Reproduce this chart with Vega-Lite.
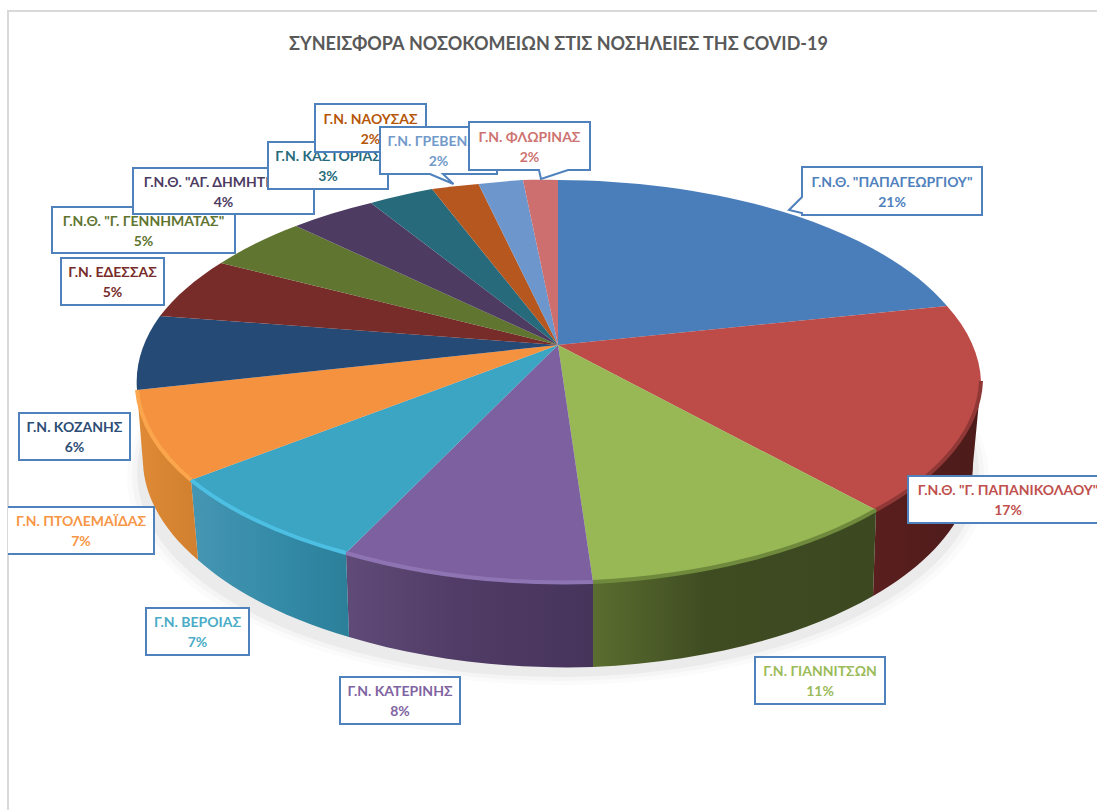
{
"$schema":"https://vega.github.io/schema/vega-lite/v6.json",
"width":1097,"height":810,"padding":0,"autosize":{"type":"none"},
"background":"white",
"title":{"text":"ΣΥΝΕΙΣΦΟΡΑ ΝΟΣΟΚΟΜΕΙΩΝ ΣΤΙΣ ΝΟΣΗΛΕΙΕΣ ΤΗΣ COVID-19","anchor":"middle","frame":"group","offset":0,"dy":63,"dx":10,"baseline":"middle","font":"Lato","fontSize":18,"fontWeight":"bold","color":"#595959"},
"config":{"view":{"stroke":null},
"range":{
"category":["#4f81bd","#c0504d","#9bbb59","#8064a2","#4bacc6","#f79646","#2c4d75","#772c2a","#5f7530","#4d3b62","#276a7c","#b65708","#729aca","#cd7371"],
"symbol":[
"M-90,-24 L90,-24 L90,24 L-90,24 L-90,22 L-103,19 L-90,6 Z",
"M-100,-23.5 L100,-23.5 L100,23.5 L-100,23.5 Z",
"M-65,-23.5 L65,-23.5 L65,23.5 L-65,23.5 Z",
"M-60,-23.5 L60,-23.5 L60,23.5 L-60,23.5 Z",
"M-51.5,-23.5 L51.5,-23.5 L51.5,23.5 L-51.5,23.5 Z",
"M-73,-23.5 L73,-23.5 L73,23.5 L-73,23.5",
"M-55.5,-23.5 L55.5,-23.5 L55.5,23.5 L-55.5,23.5 Z",
"M-51.5,-23.5 L51.5,-23.5 L51.5,23.5 L-51.5,23.5 Z",
"M-91.5,-23 L91.5,-23 L91.5,23 L-91.5,23 Z",
"M-90.5,-23 L90.5,-23 L90.5,23 L-90.5,23 Z",
"M-60,-23.5 L60,-23.5 L60,23.5 L-60,23.5 Z",
"M-55.5,-24 L55.5,-24 L55.5,24 L-55.5,24 Z",
"M-58.5,-23.5 L58.5,-23.5 L58.5,23.5 L4.5,23.5 L15,33.5 L-8.5,23.5 L-58.5,23.5 Z",
"M-60.5,-24 L60.5,-24 L60.5,24 L38.5,24 L11.5,33 L9.5,24 L-60.5,24 Z"
]}},
"data":{"values":[
{"order":1,"hospital":"Γ.Ν.Θ. \"ΠΑΠΑΓΕΩΡΓΙΟΥ\"","share":21,"label":"Γ.Ν.Θ. \"ΠΑΠΑΓΕΩΡΓΙΟΥ\"\n21%"},
{"order":2,"hospital":"Γ.Ν.Θ. \"Γ. ΠΑΠΑΝΙΚΟΛΑΟΥ\"","share":17,"label":"Γ.Ν.Θ. \"Γ. ΠΑΠΑΝΙΚΟΛΑΟΥ\"\n17%"},
{"order":3,"hospital":"Γ.Ν. ΓΙΑΝΝΙΤΣΩΝ","share":11,"label":"Γ.Ν. ΓΙΑΝΝΙΤΣΩΝ\n11%"},
{"order":4,"hospital":"Γ.Ν. ΚΑΤΕΡΙΝΗΣ","share":8,"label":"Γ.Ν. ΚΑΤΕΡΙΝΗΣ\n8%"},
{"order":5,"hospital":"Γ.Ν. ΒΕΡΟΙΑΣ","share":7,"label":"Γ.Ν. ΒΕΡΟΙΑΣ\n7%"},
{"order":6,"hospital":"Γ.Ν. ΠΤΟΛΕΜΑΪΔΑΣ","share":7,"label":"Γ.Ν. ΠΤΟΛΕΜΑΪΔΑΣ\n7%"},
{"order":7,"hospital":"Γ.Ν. ΚΟΖΑΝΗΣ","share":6,"label":"Γ.Ν. ΚΟΖΑΝΗΣ\n6%"},
{"order":8,"hospital":"Γ.Ν. ΕΔΕΣΣΑΣ","share":5,"label":"Γ.Ν. ΕΔΕΣΣΑΣ\n5%"},
{"order":9,"hospital":"Γ.Ν.Θ. \"Γ. ΓΕΝΝΗΜΑΤΑΣ\"","share":5,"label":"Γ.Ν.Θ. \"Γ. ΓΕΝΝΗΜΑΤΑΣ\"\n5%"},
{"order":10,"hospital":"Γ.Ν.Θ. \"ΑΓ. ΔΗΜΗΤΡΙΟΣ\"","share":4,"label":"Γ.Ν.Θ. \"ΑΓ. ΔΗΜΗΤΡΙΟΣ\"\n4%"},
{"order":11,"hospital":"Γ.Ν. ΚΑΣΤΟΡΙΑΣ","share":3,"label":"Γ.Ν. ΚΑΣΤΟΡΙΑΣ\n3%"},
{"order":12,"hospital":"Γ.Ν. ΝΑΟΥΣΑΣ","share":2,"label":"Γ.Ν. ΝΑΟΥΣΑΣ\n2%"},
{"order":13,"hospital":"Γ.Ν. ΓΡΕΒΕΝΩΝ","share":2,"label":"Γ.Ν. ΓΡΕΒΕΝΩΝ\n2%"},
{"order":14,"hospital":"Γ.Ν. ΦΛΩΡΙΝΑΣ","share":2,"label":"Γ.Ν. ΦΛΩΡΙΝΑΣ\n2%"}
]},
"resolve":{"scale":{"shape":"independent","color":"independent"}},
"layer":[
{"transform":[{"filter":"datum.order==1"}],"mark":{"type":"point","shape":"M-540.5,405 L-540.5,-394 L548.5,-394","size":4,"filled":false,"stroke":"#d9d9d9","strokeWidth":2,"opacity":1,"fill":null},"encoding":{}},
{"transform":[{"filter":"datum.order==1"}],"mark":{"type":"point","shape":"M-421.5,72 A431,208 0 1 1 440.5,72 A431,208 0 1 1 -421.5,72 Z","size":4,"filled":true,"fill":"#000000","opacity":0.015},"encoding":{}},
{"transform":[{"filter":"datum.order==1"}],"mark":{"type":"point","shape":"M-416.5,70 A426,206 0 1 1 435.5,70 A426,206 0 1 1 -416.5,70 Z","size":4,"filled":true,"fill":"#000000","opacity":0.025},"encoding":{}},
{"transform":[{"filter":"datum.order==1"}],"mark":{"type":"point","shape":"M-411.5,68 A421,204 0 1 1 430.5,68 A421,204 0 1 1 -411.5,68 Z","size":4,"filled":true,"fill":"#000000","opacity":0.04},"encoding":{}},
{"transform":[{"filter":"datum.order==2"}],"mark":{"type":"point","shape":"M432.5,-24 A423,201 0 0 1 327.5,105 L324.5,191 A415,203 0 0 0 424.5,59 Z","size":4,"filled":true,"opacity":1,"fill":{"gradient":"linear","x1":0,"x2":1,"y1":0,"y2":0,"stops":[{"offset":0,"color":"#5a1f1e"},{"offset":1,"color":"#4b1b1a"}]}},"encoding":{}},
{"transform":[{"filter":"datum.order==3"}],"mark":{"type":"point","shape":"M327.5,105 A423,201 0 0 1 44.5,177 L44.5,262 A415,203 0 0 0 324.5,191 Z","size":4,"filled":true,"opacity":1,"fill":{"gradient":"linear","x1":0,"x2":1,"y1":0,"y2":0,"stops":[{"offset":0,"color":"#5b6d2f"},{"offset":0.4,"color":"#3f4c22"},{"offset":1,"color":"#3c4820"}]}},"encoding":{}},
{"transform":[{"filter":"datum.order==4"}],"mark":{"type":"point","shape":"M44.5,177 A423,201 0 0 1 -202.5,148 L-199.5,232 A415,203 0 0 0 44.5,262 Z","size":4,"filled":true,"opacity":1,"fill":{"gradient":"linear","x1":0,"x2":1,"y1":0,"y2":0,"stops":[{"offset":0,"color":"#604b78"},{"offset":0.45,"color":"#503c66"},{"offset":1,"color":"#47345b"}]}},"encoding":{}},
{"transform":[{"filter":"datum.order==5"}],"mark":{"type":"point","shape":"M-202.5,148 A423,201 0 0 1 -357.5,75 L-350.5,155 A415,203 0 0 0 -199.5,232 Z","size":4,"filled":true,"opacity":1,"fill":{"gradient":"linear","x1":0,"x2":1,"y1":0,"y2":0,"stops":[{"offset":0,"color":"#4596b3"},{"offset":0.6,"color":"#338aa6"},{"offset":1,"color":"#2b7f99"}]}},"encoding":{}},
{"transform":[{"filter":"datum.order==6"}],"mark":{"type":"point","shape":"M-357.5,75 A423,201 0 0 1 -411.5,-15 L-405.5,59 A415,203 0 0 0 -350.5,155 Z","size":4,"filled":true,"opacity":1,"fill":{"gradient":"linear","x1":0,"x2":1,"y1":0,"y2":0,"stops":[{"offset":0,"color":"#df8a36"},{"offset":1,"color":"#d0802f"}]}},"encoding":{}},
{"mark":{"type":"point","filled":true,"size":4,"opacity":1},
 "encoding":{
  "shape":{"field":"order","type":"nominal","legend":null,"scale":{"domain":[1,2,3,4,5,6,7,8,9,10,11,12,13,14],"range":[
   "M9.5,-60 L9.5,-225 A423,201 0 0 1 398.5,-99 Z",
   "M9.5,-60 L398.5,-99 A423,201 0 0 1 432.5,-24 A423,201 0 0 1 327.5,105 Z",
   "M9.5,-60 L327.5,105 A423,201 0 0 1 44.5,177 Z",
   "M9.5,-60 L44.5,177 A423,201 0 0 1 -202.5,148 Z",
   "M9.5,-60 L-202.5,148 A423,201 0 0 1 -357.5,75 Z",
   "M9.5,-60 L-357.5,75 A423,201 0 0 1 -411.5,-15 Z",
   "M9.5,-60 L-411.5,-15 A423,201 0 0 1 -388.5,-89 Z",
   "M9.5,-60 L-388.5,-89 A423,201 0 0 1 -327.5,-142 Z",
   "M9.5,-60 L-327.5,-142 A423,201 0 0 1 -252.5,-179 Z",
   "M9.5,-60 L-252.5,-179 A423,201 0 0 1 -177.5,-202 Z",
   "M9.5,-60 L-177.5,-202 A423,201 0 0 1 -116.5,-216 Z",
   "M9.5,-60 L-116.5,-216 A423,201 0 0 1 -70,-221 Z",
   "M9.5,-60 L-70,-221 A423,201 0 0 1 -25.5,-225 Z",
   "M9.5,-60 L-25.5,-225 A423,201 0 0 1 9.5,-225 Z"]}},
  "color":{"field":"order","type":"nominal","legend":null,"scale":{"domain":[1,2,3,4,5,6,7,8,9,10,11,12,13,14],"range":["#4a7ebb","#bd4b48","#98b855","#7d60a0","#3ba5c3","#f59240","#254a75","#772c2a","#5f7530","#4d3b62","#276a7c","#b65720","#6d97cc","#cc6f6e"]}}
 }},
{"transform":[{"filter":"datum.order>=2 && datum.order<=6"}],
 "mark":{"type":"point","filled":false,"size":4,"opacity":1,"strokeWidth":4,"fill":null},
 "encoding":{
  "shape":{"field":"order","type":"nominal","legend":null,"scale":{"domain":[2,3,4,5,6],"range":[
   "M432.5,-24 A423,201 0 0 1 327.5,105",
   "M327.5,105 A423,201 0 0 1 44.5,177",
   "M44.5,177 A423,201 0 0 1 -202.5,148",
   "M-202.5,148 A423,201 0 0 1 -357.5,75",
   "M-357.5,75 A423,201 0 0 1 -411.5,-15"]}},
  "color":{"field":"order","type":"nominal","legend":null,"scale":{"domain":[2,3,4,5,6],"range":["#8f3836","#6f8a3c","#8f74b3","#4dbfe3","#fba54d"]}}
 }},
{"transform":[{"filter":"datum.order<=8"}],"mark":{"type":"point","filled":true,"fill":"white","stroke":"#4f81bd","strokeWidth":2,"size":4,"opacity":1},
 "encoding":{"x":{"field":"order","type":"quantitative","axis":null,"scale":{"zero":false,"nice":false,"domain":[1,2,3,4,5,6,7,8,9,10,11,12,13,14],"range":[892,1008,820,400,197.5,81,74.5,112.5,143.5,223.5,328,370.5,438.5,529.5]}},
 "y":{"field":"order","type":"quantitative","axis":null,"scale":{"zero":false,"nice":false,"domain":[1,2,3,4,5,6,7,8,9,10,11,12,13,14],"range":[191,499.5,680.5,700.5,631.5,530.5,436.5,281.5,230,191,165.5,128,150.5,146]}},
 "shape":{"field":"order","type":"nominal","legend":null,"scale":{"domain":[1,2,3,4,5,6,7,8,9,10,11,12,13,14]}}}},
{"transform":[{"filter":"datum.order<=8"}],"mark":{"type":"text","font":"Lato","fontWeight":"bold","fontSize":14,"lineBreak":"\n","lineHeight":20,"align":"center","baseline":"middle","dy":-8.5},
 "encoding":{"x":{"field":"order","type":"quantitative"},"y":{"field":"order","type":"quantitative"},"text":{"field":"label"},"color":{"field":"order","type":"nominal","legend":null,"scale":{"domain":[1,2,3,4,5,6,7,8,9,10,11,12,13,14]}}}},
{"transform":[{"filter":"datum.order==9"}],"mark":{"type":"point","filled":true,"fill":"white","stroke":"#4f81bd","strokeWidth":2,"size":4,"opacity":1},
 "encoding":{"x":{"field":"order","type":"quantitative"},"y":{"field":"order","type":"quantitative"},"shape":{"field":"order","type":"nominal","legend":null,"scale":{"domain":[1,2,3,4,5,6,7,8,9,10,11,12,13,14]}}}},
{"transform":[{"filter":"datum.order==9"}],"mark":{"type":"text","font":"Lato","fontWeight":"bold","fontSize":14,"lineBreak":"\n","lineHeight":20,"align":"center","baseline":"middle","dy":-8.5},
 "encoding":{"x":{"field":"order","type":"quantitative"},"y":{"field":"order","type":"quantitative"},"text":{"field":"label"},"color":{"field":"order","type":"nominal","legend":null,"scale":{"domain":[1,2,3,4,5,6,7,8,9,10,11,12,13,14]}}}},
{"transform":[{"filter":"datum.order==10"}],"mark":{"type":"point","filled":true,"fill":"white","stroke":"#4f81bd","strokeWidth":2,"size":4,"opacity":1},
 "encoding":{"x":{"field":"order","type":"quantitative"},"y":{"field":"order","type":"quantitative"},"shape":{"field":"order","type":"nominal","legend":null,"scale":{"domain":[1,2,3,4,5,6,7,8,9,10,11,12,13,14]}}}},
{"transform":[{"filter":"datum.order==10"}],"mark":{"type":"text","font":"Lato","fontWeight":"bold","fontSize":14,"lineBreak":"\n","lineHeight":20,"align":"center","baseline":"middle","dy":-8.5},
 "encoding":{"x":{"field":"order","type":"quantitative"},"y":{"field":"order","type":"quantitative"},"text":{"field":"label"},"color":{"field":"order","type":"nominal","legend":null,"scale":{"domain":[1,2,3,4,5,6,7,8,9,10,11,12,13,14]}}}},
{"transform":[{"filter":"datum.order==11"}],"mark":{"type":"point","filled":true,"fill":"white","stroke":"#4f81bd","strokeWidth":2,"size":4,"opacity":1},
 "encoding":{"x":{"field":"order","type":"quantitative"},"y":{"field":"order","type":"quantitative"},"shape":{"field":"order","type":"nominal","legend":null,"scale":{"domain":[1,2,3,4,5,6,7,8,9,10,11,12,13,14]}}}},
{"transform":[{"filter":"datum.order==11"}],"mark":{"type":"text","font":"Lato","fontWeight":"bold","fontSize":14,"lineBreak":"\n","lineHeight":20,"align":"center","baseline":"middle","dy":-8.5},
 "encoding":{"x":{"field":"order","type":"quantitative"},"y":{"field":"order","type":"quantitative"},"text":{"field":"label"},"color":{"field":"order","type":"nominal","legend":null,"scale":{"domain":[1,2,3,4,5,6,7,8,9,10,11,12,13,14]}}}},
{"transform":[{"filter":"datum.order==12"}],"mark":{"type":"point","filled":true,"fill":"white","stroke":"#4f81bd","strokeWidth":2,"size":4,"opacity":1},
 "encoding":{"x":{"field":"order","type":"quantitative"},"y":{"field":"order","type":"quantitative"},"shape":{"field":"order","type":"nominal","legend":null,"scale":{"domain":[1,2,3,4,5,6,7,8,9,10,11,12,13,14]}}}},
{"transform":[{"filter":"datum.order==12"}],"mark":{"type":"text","font":"Lato","fontWeight":"bold","fontSize":14,"lineBreak":"\n","lineHeight":20,"align":"center","baseline":"middle","dy":-8.5},
 "encoding":{"x":{"field":"order","type":"quantitative"},"y":{"field":"order","type":"quantitative"},"text":{"field":"label"},"color":{"field":"order","type":"nominal","legend":null,"scale":{"domain":[1,2,3,4,5,6,7,8,9,10,11,12,13,14]}}}},
{"transform":[{"filter":"datum.order==13"}],"mark":{"type":"point","filled":true,"fill":"white","stroke":"#4f81bd","strokeWidth":2,"size":4,"opacity":1},
 "encoding":{"x":{"field":"order","type":"quantitative"},"y":{"field":"order","type":"quantitative"},"shape":{"field":"order","type":"nominal","legend":null,"scale":{"domain":[1,2,3,4,5,6,7,8,9,10,11,12,13,14]}}}},
{"transform":[{"filter":"datum.order==13"}],"mark":{"type":"text","font":"Lato","fontWeight":"bold","fontSize":14,"lineBreak":"\n","lineHeight":20,"align":"center","baseline":"middle","dy":-8.5},
 "encoding":{"x":{"field":"order","type":"quantitative"},"y":{"field":"order","type":"quantitative"},"text":{"field":"label"},"color":{"field":"order","type":"nominal","legend":null,"scale":{"domain":[1,2,3,4,5,6,7,8,9,10,11,12,13,14]}}}},
{"transform":[{"filter":"datum.order==14"}],"mark":{"type":"point","filled":true,"fill":"white","stroke":"#4f81bd","strokeWidth":2,"size":4,"opacity":1},
 "encoding":{"x":{"field":"order","type":"quantitative"},"y":{"field":"order","type":"quantitative"},"shape":{"field":"order","type":"nominal","legend":null,"scale":{"domain":[1,2,3,4,5,6,7,8,9,10,11,12,13,14]}}}},
{"transform":[{"filter":"datum.order==14"}],"mark":{"type":"text","font":"Lato","fontWeight":"bold","fontSize":14,"lineBreak":"\n","lineHeight":20,"align":"center","baseline":"middle","dy":-8.5},
 "encoding":{"x":{"field":"order","type":"quantitative"},"y":{"field":"order","type":"quantitative"},"text":{"field":"label"},"color":{"field":"order","type":"nominal","legend":null,"scale":{"domain":[1,2,3,4,5,6,7,8,9,10,11,12,13,14]}}}}
]
}
